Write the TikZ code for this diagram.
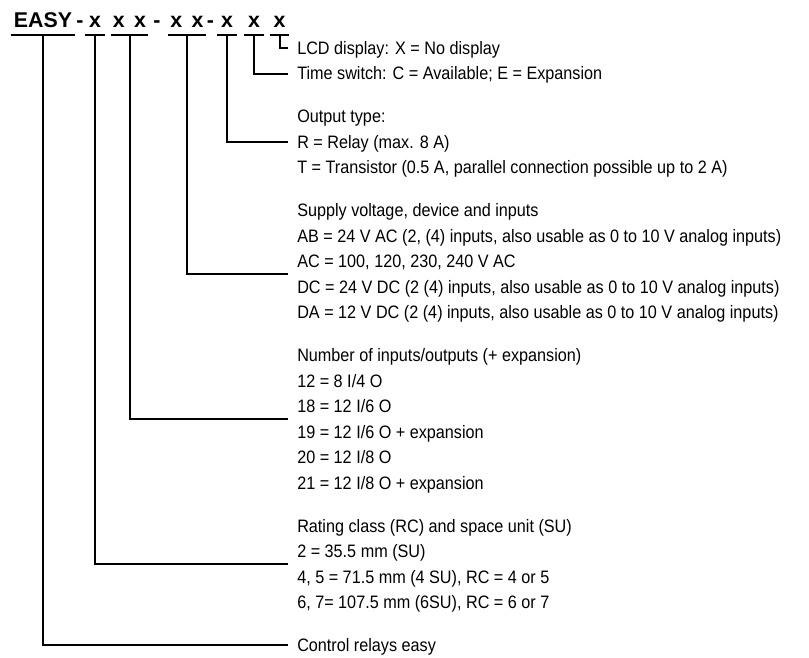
\documentclass[tikz,border=0pt]{standalone}
\usepackage{fontspec}
\setmainfont[FakeStretch=0.9]{Liberation Sans}
\newfontfamily\codefont{Liberation Sans}
\usetikzlibrary{calc}

\begin{document}
\begin{tikzpicture}[
        x=0.75pt, y=-0.75pt,
        link/.style={draw, line width=1.5pt},
        code/.style={font=\codefont\bfseries\fontsize{16}{19}\selectfont, anchor=south, inner xsep=0pt, inner ysep=5.25pt, text depth=0pt},
        row/.style={font=\fontsize{13.5}{16}\selectfont, anchor=west, inner xsep=6.75pt, inner ysep=0pt, text height=9.7pt, text depth=0pt}
    ]
        \useasboundingbox (0,0) rectangle (809,657);

        % Type code
        \node[code, minimum width=48pt] (easy) at (43,35) {EASY};
        \node[code] (dasha) at (80,35) {-};
        \node[code, minimum width=14.25pt] (rc) at (95,35) {x};
        \node[code, minimum width=27.75pt] (io) at (129.5,35) {x\hspace{7pt}x};
        \node[code] (dashb) at (157,35) {-};
        \node[code, minimum width=27.75pt] (sv) at (187,35) {x\hspace{7pt}x};
        \node[code] (dashc) at (210.5,35) {-};
        \node[code, minimum width=15pt] (out) at (227,35) {x};
        \node[code, minimum width=15pt] (ts) at (254,35) {x};
        \node[code, minimum width=13.5pt] (lcd) at (279.5,35) {x};

        % Descriptions
        \node[row] (lcdrow) at (288,48) {LCD display: X = No display};
        \node[row] (tsrow) at (288,73.5) {Time switch: C = Available; E = Expansion};

        \node[row] (outhead) at (288,116.4) {Output type:};
        \node[row] (relay) at (288,141.9) {R = Relay (max. 8 A)};
        \node[row] (trans) at (288,167.4) {T = Transistor (0.5 A, parallel connection possible up to 2 A)};

        \node[row] (svhead) at (288,210.3) {Supply voltage, device and inputs};
        \node[row] (ab) at (288,235.8) {AB = 24 V AC (2, (4) inputs, also usable as 0 to 10 V analog inputs)};
        \node[row] (ac) at (288,261.3) {AC = 100, 120, 230, 240 V AC};
        \node[row] (dc) at (288,286.8) {DC = 24 V DC (2 (4) inputs, also usable as 0 to 10 V analog inputs)};
        \node[row] (da) at (288,312.3) {DA = 12 V DC (2 (4) inputs, also usable as 0 to 10 V analog inputs)};

        \node[row] (iohead) at (288,355.2) {Number of inputs/outputs (+ expansion)};
        \node[row] (ioa) at (288,380.7) {12 = 8 I/4 O};
        \node[row] (iob) at (288,406.2) {18 = 12 I/6 O};
        \node[row] (ioc) at (288,431.7) {19 = 12 I/6 O + expansion};
        \node[row] (iod) at (288,457.2) {20 = 12 I/8 O};
        \node[row] (ioe) at (288,482.7) {21 = 12 I/8 O + expansion};

        \node[row] (rchead) at (288,525.6) {Rating class (RC) and space unit (SU)};
        \node[row] (sua) at (288,551.1) {2 = 35.5 mm (SU)};
        \node[row] (sub) at (288,576.6) {4, 5 = 71.5 mm (4 SU), RC = 4 or 5};
        \node[row] (suc) at (288,602.1) {6, 7= 107.5 mm (6SU), RC = 6 or 7};

        \node[row] (ctrl) at (288,645) {Control relays easy};

        % Taps between rows
        \coordinate (svtap) at ($(ac.west)!0.5!(dc.west)$);
        \coordinate (iotap) at ($(iob.west)!0.5!(ioc.west)$);
        \coordinate (rctap) at ($(sua.west)!0.5!(sub.west)$);

        % Underlines
        \foreach \c in {easy,rc,io,sv,out,ts,lcd}
            \draw[link] (\c.south west) -- (\c.south east);

        % Leaders
        \draw[link] (lcd.south) |- (lcdrow.west);
        \draw[link] (ts.south) |- (tsrow.west);
        \draw[link] (out.south) |- (relay.west);
        \draw[link] (sv.south) |- (svtap);
        \draw[link] (io.south) |- (iotap);
        \draw[link] (rc.south) |- (rctap);
        \draw[link] (easy.south) |- (ctrl.west);

    \end{tikzpicture}
\end{document}
